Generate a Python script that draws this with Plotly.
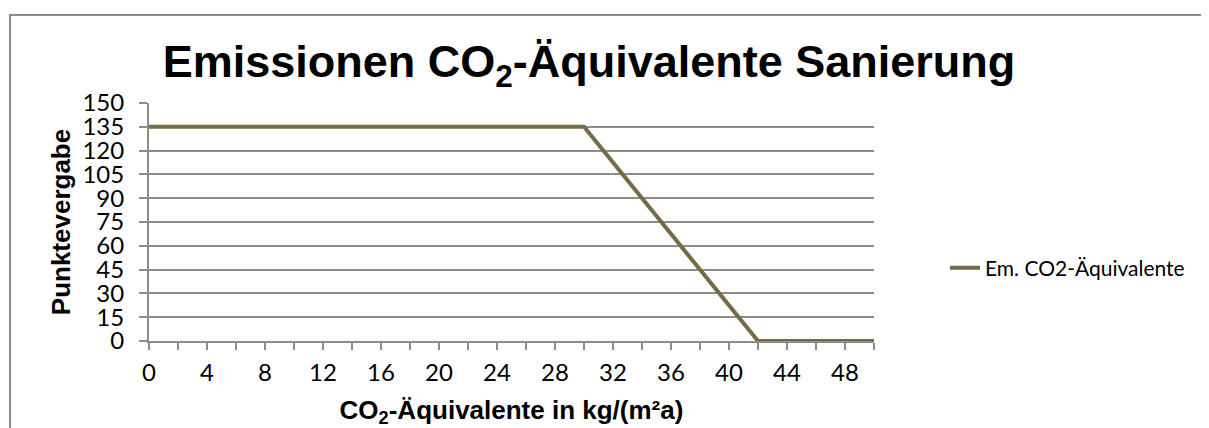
import plotly.graph_objects as go

# Data (knot points of the line)
co2_values = [0, 30, 42, 50]          # CO2-Äquivalente in kg/(m²a)
points = [135, 135, 0, 0]             # Punktevergabe
series_name = "Em. CO2-Äquivalente"
x_ticks = [0, 4, 8, 12, 16, 20, 24, 28, 32, 36, 40, 44, 48]
y_ticks = [0, 15, 30, 45, 60, 75, 90, 105, 120, 135, 150]

# the page body adds an 8px margin, so the figure is laid out 8px smaller
OFF = 8
W, H = 1209 - OFF, 428 - OFF
L, T = 149 - OFF, 103 - OFF
PR, PB = 874 - OFF, 341 - OFF
R, B = W - PR, H - PB
PW, PH = PR - L, PB - T

def px_x(p):
    return (p - OFF - L) / PW

def px_y(p):
    return (PB - (p - OFF)) / PH

GRID = "#8c8c8c"
LINE = "#756b45"
TICK_FONT = dict(family="Lato, Open Sans, sans-serif", size=24, color="black")
BOLD = dict(family="Liberation Sans, Arial, sans-serif", color="black", weight="bold")

fig = go.Figure()
fig.add_trace(go.Scatter(
    x=co2_values, y=points, mode="lines", name=series_name,
    line=dict(color=LINE, width=4), cliponaxis=False,
))

fig.update_layout(
    width=W, height=H,
    margin=dict(l=L, r=R, t=T, b=B, autoexpand=False),
    paper_bgcolor="white", plot_bgcolor="white",
    title=dict(
        text="Emissionen CO<sub>2</sub>-Äquivalente Sanierung",
        font=dict(size=45, **BOLD),
        x=(589 - OFF) / W, xanchor="center", xref="container",
        y=1 - 53.5 / H, yanchor="middle", yref="container",
    ),
    showlegend=True,
    legend=dict(
        x=px_x(945), xanchor="left", y=px_y(268), yanchor="middle",
        font=dict(family="Lato, Open Sans, sans-serif", size=21, color="black"),
        bgcolor="rgba(0,0,0,0)",
    ),
    xaxis=dict(
        range=[0, 50], tickmode="array", tickvals=x_ticks,
        ticktext=[str(v) for v in x_ticks],
        ticks="outside", ticklen=7, tickwidth=2, tickcolor=GRID,
        minor=dict(dtick=2, tick0=0, ticks="outside", ticklen=7, tickwidth=2, tickcolor=GRID, showgrid=False),
        showline=True, linecolor=GRID, linewidth=2,
        showgrid=False, zeroline=False,
        tickfont=TICK_FONT, ticklabelstandoff=2,
        title=dict(text="CO<sub>2</sub>-Äquivalente in kg/(m²a)", font=dict(size=26, **BOLD), standoff=16),
    ),
    yaxis=dict(
        range=[0, 150], tickmode="array", tickvals=y_ticks,
        ticks="outside", ticklen=8, tickwidth=2, tickcolor=GRID,
        showline=True, linecolor=GRID, linewidth=2,
        showgrid=True, gridcolor=GRID, gridwidth=2, zeroline=False,
        tickfont=TICK_FONT, ticklabelstandoff=10,
        title=dict(text="Punktevergabe", font=dict(size=26, **BOLD), standoff=4),
    ),
    shapes=[dict(
        type="rect", xref="paper", yref="paper",
        x0=px_x(10), x1=px_x(1240), y0=px_y(15), y1=px_y(460),
        line=dict(color=GRID, width=2), fillcolor="rgba(0,0,0,0)", layer="below",
    )],
)

fig.write_html("out.html")
